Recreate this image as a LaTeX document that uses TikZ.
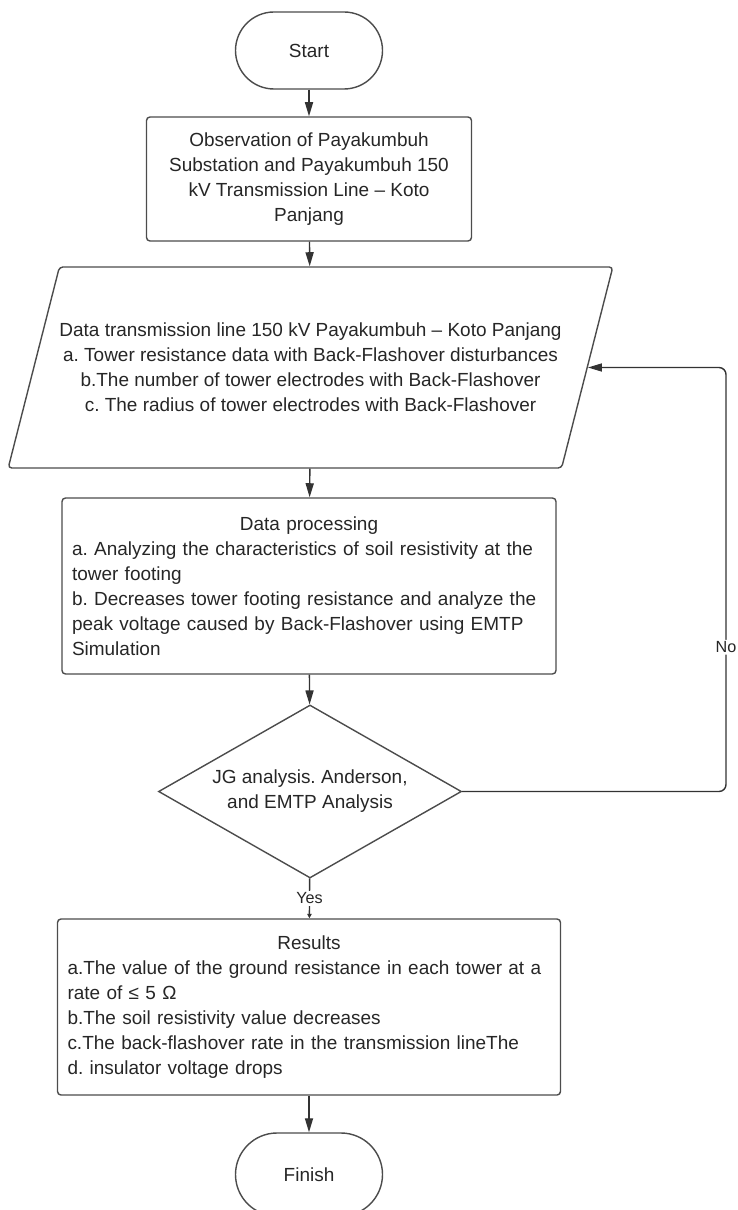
\documentclass[tikz,border=0pt]{standalone}
\usepackage{fontspec}
\setmainfont{Liberation Sans}
\usetikzlibrary{shapes,arrows.meta}
\tikzset{
	term/.style={rectangle,rounded corners=0.77cm,draw=black!70,line width=0.8pt,minimum width=2.94cm,minimum height=1.54cm},
	procbox/.style={rectangle,rounded corners=2pt,draw=black!70,line width=0.8pt,inner sep=0.2cm},
	iobox/.style={trapezium,trapezium left angle=63,trapezium right angle=117,trapezium stretches=true,inner xsep=0pt,rounded corners=2pt,draw=black!70,line width=0.8pt,align=center},
	decide/.style={diamond,aspect=1.75,inner sep=0pt,draw=black!70,line width=0.8pt,align=center,minimum width=6.06cm,minimum height=3.46cm},
	diredge/.style={->,>={Triangle[width=4.6pt,length=8pt]},color=black!80,line width=0.8pt},
	edgelabel/.style={fill=white,font=\fontsize{9.2pt}{10pt}\selectfont,inner sep=1pt,text=black!85}
}
\begin{document}
\begin{tikzpicture}[font=\fontsize{10.8pt}{14.2pt}\selectfont\frenchspacing, text=black!85]
		\useasboundingbox (0,0) rectangle (14.76,-24.2);
		\clip (0,0) rectangle (14.76,-24.2);

		\node [term] (0) at (6.18,-1.01) {Start};
		\node [procbox, minimum width=6.5cm, minimum height=2.48cm, align=center] (1) at (6.18,-3.58) {Observation of Payakumbuh\\Substation and Payakumbuh 150\\kV Transmission Line – Koto\\Panjang};
		\node [iobox, minimum width=11.72cm, minimum height=4.02cm] (2) at (6.21,-7.35) {Data transmission line 150 kV Payakumbuh – Koto Panjang\\a. Tower resistance data with Back-Flashover disturbances\\b.The number of tower electrodes with Back-Flashover\\c. The radius of tower electrodes with Back-Flashover};
		\node [procbox, minimum width=9.88cm, minimum height=3.52cm, text width=9.48cm, align=left] (3) at (6.18,-11.72) {\makebox[\linewidth]{Data processing}\\a. Analyzing the characteristics of soil resistivity at the\\tower footing\\b. Decreases tower footing resistance and analyze the\\peak voltage caused by Back-Flashover using EMTP\\Simulation};
		\node [decide] (4) at (6.2,-15.83) {JG analysis. Anderson,\\and EMTP Analysis};
		\node [procbox, minimum width=10.06cm, minimum height=3.52cm, text width=9.66cm, align=left] (5) at (6.18,-20.14) {\makebox[\linewidth]{Results}\\a.The value of the ground resistance in each tower at a\\rate of ≤ 5 Ω\\b.The soil resistivity value decreases\\c.The back-flashover rate in the transmission lineThe\\d. insulator voltage drops};
		\node [term, minimum height=1.66cm, rounded corners=0.83cm] (6) at (6.18,-23.49) {Finish};
		\coordinate (7) at (14.52,-7.35);

		\draw [diredge] (0) to (1);
		\draw [diredge] (1) to (2);
		\draw [diredge] (2) to (3);
		\draw [diredge] (3) to (4);
		\draw [diredge, >={Triangle[width=2.5pt,length=2.5pt]}] (4) to node [edgelabel] {Yes} (5);
		\draw [diredge] (5) to (6);
		\draw [diredge, rounded corners=4pt] (4.east) -| node [edgelabel, pos=0.67] {No} (7) -- (2.east);
\end{tikzpicture}
\end{document}
